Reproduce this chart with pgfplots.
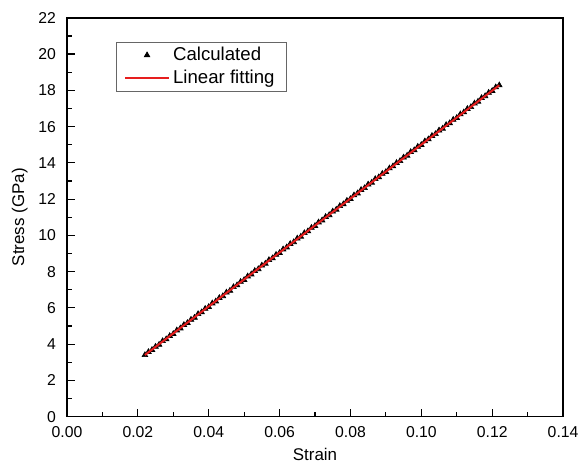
\documentclass[border=0pt]{standalone}
\usepackage{fontspec}
\setmainfont{Liberation Sans}
\usepackage{pgfplots}
\pgfplotsset{compat=1.18}
\definecolor{FitRed}{HTML}{E61E1E}

\pgfplotstableread{
strain stress
0.022 3.40
0.023 3.57
0.024 3.68
0.025 3.86
0.026 3.97
0.027 4.17
0.028 4.27
0.029 4.45
0.030 4.56
0.031 4.76
0.032 4.87
0.033 5.06
0.034 5.17
0.035 5.35
0.036 5.46
0.037 5.66
0.038 5.76
0.039 5.95
0.040 6.05
0.041 6.25
0.042 6.36
0.043 6.55
0.044 6.65
0.045 6.85
0.046 6.95
0.047 7.15
0.048 7.25
0.049 7.44
0.050 7.54
0.051 7.74
0.052 7.85
0.053 8.04
0.054 8.14
0.055 8.34
0.056 8.44
0.057 8.64
0.058 8.74
0.059 8.93
0.060 9.03
0.061 9.23
0.062 9.34
0.063 9.53
0.064 9.63
0.065 9.83
0.066 9.93
0.067 10.13
0.068 10.23
0.069 10.42
0.070 10.52
0.071 10.72
0.072 10.83
0.073 11.02
0.074 11.12
0.075 11.32
0.076 11.42
0.077 11.62
0.078 11.72
0.079 11.91
0.080 12.01
0.081 12.21
0.082 12.32
0.083 12.51
0.084 12.61
0.085 12.81
0.086 12.91
0.087 13.11
0.088 13.21
0.089 13.40
0.090 13.50
0.091 13.70
0.092 13.81
0.093 14.00
0.094 14.10
0.095 14.30
0.096 14.40
0.097 14.60
0.098 14.70
0.099 14.89
0.100 14.99
0.101 15.19
0.102 15.30
0.103 15.49
0.104 15.59
0.105 15.79
0.106 15.89
0.107 16.09
0.108 16.19
0.109 16.38
0.110 16.48
0.111 16.68
0.112 16.79
0.113 16.98
0.114 17.08
0.115 17.28
0.116 17.38
0.117 17.58
0.118 17.68
0.119 17.87
0.120 17.97
0.121 18.17
0.122 18.28
}\stressdata

\begin{document}
\begin{tikzpicture}
\begin{axis}[
    scale only axis,
    width=10.30cm,
    height=8.28cm,
    xmin=0, xmax=0.14,
    ymin=0, ymax=22,
    xtick={0,0.02,...,0.14},
    ytick={0,2,...,22},
    minor x tick num=1,
    minor y tick num=1,
    tick align=inside,
    xtick pos=bottom,
    ytick pos=left,
    major tick length=4.8pt,
    minor tick length=2.8pt,
    tick style={black, line width=0.7pt},
    axis line style={black, line width=0.8pt},
    clip marker paths=true,
    /pgf/number format/assume math mode=true,
    xticklabel style={/pgf/number format/fixed, /pgf/number format/fixed zerofill,
        /pgf/number format/precision=2, yshift=-2pt},
    yticklabel style={xshift=-3pt},
    scaled x ticks=false,
    tick label style={font=\fontsize{9.3}{11}\selectfont},
    label style={font=\fontsize{11}{13}\selectfont},
    xlabel={Strain},
    ylabel={Stress (GPa)},
    every axis x label/.style={at={(axis description cs:0.5,-0.095)}, anchor=center},
    every axis y label/.style={at={(axis description cs:-0.095,0.5)}, rotate=90, anchor=center},
    legend style={at={(0.098,0.94)}, anchor=north west, draw=black!60, line width=0.4pt,
        font=\fontsize{11}{13}\selectfont, inner xsep=5pt, inner ysep=1pt,
        cells={anchor=west}},
    legend cell align=left,
    legend image code/.code={\draw[mark repeat=2, mark phase=2]
        plot coordinates {(0cm,0cm) (0.45cm,0cm) (0.9cm,0cm)};},
]
\addplot[only marks, mark=triangle*, mark size=1.9pt, black] table[x=strain, y=stress] {\stressdata};
\addlegendentry{Calculated}
\addplot[FitRed, line width=1.2pt] coordinates {(0.022,3.40) (0.122,18.28)};
\addlegendentry{Linear fitting}
\end{axis}
\pgfresetboundingbox
\path[use as bounding box] ([shift={(-1.39cm,-1.10cm)}]current axis.south west)
    rectangle ([shift={(0.31cm,0.37cm)}]current axis.north east);
\end{tikzpicture}
\end{document}
